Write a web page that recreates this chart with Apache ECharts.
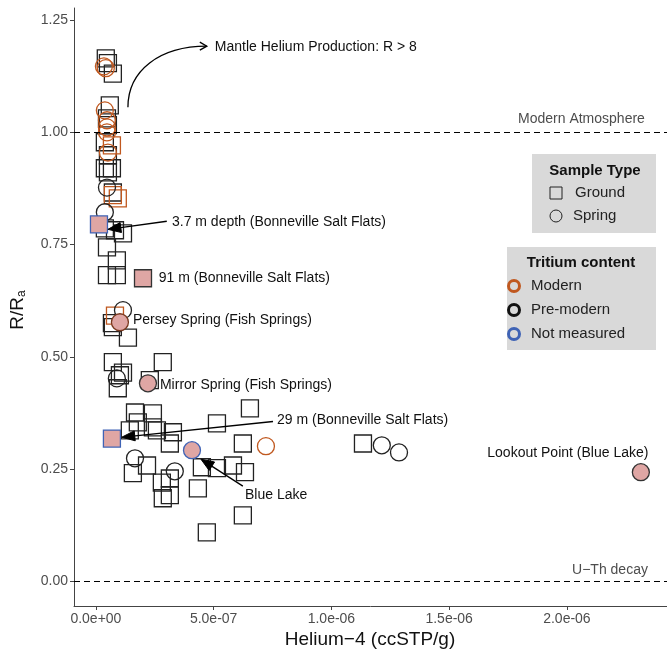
<!DOCTYPE html>
<html>
<head>
<meta charset="utf-8">
<script src="https://cdn.jsdelivr.net/npm/echarts@6/dist/echarts.min.js"></script>
<style>
html,body{margin:0;padding:0;background:#fff;}
#chart{width:667px;height:655px;}
</style>
</head>
<body>
<div id="chart"></div>
<script>
// ---- Data: [Helium-4 (ccSTP/g), R/Ra] ----
var groundPreModern = [
  [4.2e-8,1.165],[5.1e-8,1.154],[7.2e-8,1.131],[5.9e-8,1.060],[4.7e-8,1.031],[5.1e-8,1.016],
  [3.8e-8,0.978],[5.1e-8,0.949],[3.8e-8,0.920],[6.8e-8,0.920],[5.1e-8,0.911],[7.2e-8,0.866],
  [3.8e-8,0.786],[8.1e-8,0.782],[1.15e-7,0.775],[4.7e-8,0.744],[8.9e-8,0.715],[4.7e-8,0.682],
  [8.9e-8,0.682],[6.8e-8,0.575],[7.2e-8,0.566],[1.36e-7,0.543],[7.2e-8,0.488],[2.84e-7,0.488],
  [1.15e-7,0.465],[1.02e-7,0.459],[9.3e-8,0.430],[2.29e-7,0.448],[1.66e-7,0.376],[2.42e-7,0.374],
  [1.78e-7,0.354],[1.44e-7,0.336],[2.42e-7,0.343],[2.59e-7,0.336],[3.27e-7,0.332],[3.14e-7,0.307],
  [5.14e-7,0.352],[6.54e-7,0.385],[6.24e-7,0.307],[2.17e-7,0.258],[1.57e-7,0.241],[2.80e-7,0.220],
  [3.14e-7,0.229],[2.84e-7,0.185],[3.14e-7,0.192],[4.50e-7,0.254],[5.14e-7,0.252],[5.82e-7,0.258],
  [6.33e-7,0.243],[4.33e-7,0.207],[6.24e-7,0.147],[4.71e-7,0.109],[1.134e-6,0.307]
];
var groundModern = [[6.8e-8,0.971],[7.2e-8,0.860],[9.3e-8,0.853],[8.1e-8,0.592]];
var springPreModern = [
  [4.7e-8,0.877],[3.8e-8,0.822],[1.15e-7,0.604],[8.9e-8,0.452],[1.66e-7,0.274],[3.35e-7,0.245],
  [1.214e-6,0.303],[1.287e-6,0.287]
];
var springModern = [
  [3.4e-8,1.147],[4.2e-8,1.143],[3.8e-8,1.049],[4.7e-8,1.027],[4.7e-8,1.011],[4.7e-8,1.000],
  [5.1e-8,0.955],[7.22e-7,0.301]
];
// highlighted (labelled) samples
var groundLabelledNotMeasured = [[1.3e-8,0.795],[6.8e-8,0.318]];   // 3.7 m, 29 m
var groundLabelledPreModern = [[2.0e-7,0.675]];                     // 91 m
var springLabelledModern = [[1.02e-7,0.577]];                       // Persey Spring
var springLabelledPreModern = [[2.21e-7,0.441],[2.314e-6,0.243]];   // Mirror Spring, Lookout Point
var springLabelledNotMeasured = [[4.08e-7,0.292]];                  // Blue Lake

var xTickValues = [0, 5e-7, 1e-6, 1.5e-6, 2e-6];
var xTickLabels = ['0.0e+00','5.0e-07','1.0e-06','1.5e-06','2.0e-06'];
var yTickValues = [0, 0.25, 0.5, 0.75, 1.0, 1.25];
var yTickLabels = ['0.00','0.25','0.50','0.75','1.00','1.25'];
var refLines = [1.0, 0.0];

var ORANGE = '#c0581f', BLUE = '#3f63b5', BLACK = '#111', PINK = '#dfa6a4';
var FONT = '"Liberation Sans", Arial, Helvetica, sans-serif';

function lookup(vals, labels, v){
  for (var i=0;i<vals.length;i++){ if (Math.abs(vals[i]-v) < 1e-12 + Math.abs(vals[i])*1e-6) return labels[i]; }
  return '';
}

var chart = echarts.init(document.getElementById('chart'), null, {renderer:'canvas'});

function sq(name, data, border, fill){
  return {type:'scatter', name:name, data:data, symbol:'rect', symbolSize:17,
    itemStyle:{color:fill||'rgba(0,0,0,0)', borderColor:border, borderWidth:1.3, opacity:1},
    emphasis:{disabled:true}, silent:true, z:3};
}
function ci(name, data, border, fill){
  return {type:'scatter', name:name, data:data, symbol:'circle', symbolSize:17,
    itemStyle:{color:fill||'rgba(0,0,0,0)', borderColor:border, borderWidth:1.3, opacity:1},
    emphasis:{disabled:true}, silent:true, z:3};
}

var series = [
  sq('gpm', groundPreModern, '#222'),
  sq('gm', groundModern, ORANGE),
  ci('spm', springPreModern, '#222'),
  ci('sm', springModern, ORANGE),
  sq('glnm', groundLabelledNotMeasured, BLUE, PINK),
  sq('glpm', groundLabelledPreModern, '#333', PINK),
  ci('slm', springLabelledModern, '#7a3a20', PINK),
  ci('slpm', springLabelledPreModern, '#333', PINK),
  ci('slnm', springLabelledNotMeasured, BLUE, PINK)
];
series[0].markLine = {
  silent:true, symbol:['none','none'], label:{show:false},
  lineStyle:{color:'#000', type:[6,4], width:1.2},
  data: refLines.map(function(v){ return {yAxis:v}; })
};

chart.setOption({
  animation:false,
  backgroundColor:'#fff',
  textStyle:{fontFamily:FONT},
  grid:{left:74, right:0, top:8, bottom:49, containLabel:false},
  xAxis:{
    type:'value', min:-9.3e-8, max:2.425e-6,
    axisLine:{show:true, onZero:false, lineStyle:{color:'#444', width:1}},
    axisTick:{show:true, length:4, lineStyle:{color:'#444'}, customValues:xTickValues},
    axisLabel:{show:true, customValues:xTickValues, margin:6, color:'#4d4d4d', fontSize:14, fontFamily:FONT,
      formatter:function(v){ return lookup(xTickValues, xTickLabels, v); }},
    splitLine:{show:false}
  },
  yAxis:{
    type:'value', min:-0.055, max:1.277,
    axisLine:{show:true, onZero:false, lineStyle:{color:'#444', width:1}},
    axisTick:{show:true, length:4, lineStyle:{color:'#444'}, customValues:yTickValues},
    axisLabel:{show:true, customValues:yTickValues, margin:6, color:'#4d4d4d', fontSize:14, fontFamily:FONT,
      formatter:function(v){ return lookup(yTickValues, yTickLabels, v); }},
    splitLine:{show:false}
  },
  series:series
});

function P(x,y){ return chart.convertToPixel({gridIndex:0}, [x,y]); }

function arrowEls(tail, tip, headLen, headHalf){
  var dx = tip[0]-tail[0], dy = tip[1]-tail[1];
  var L = Math.sqrt(dx*dx+dy*dy); var ux = dx/L, uy = dy/L;
  var bx = tip[0]-ux*headLen, by = tip[1]-uy*headLen;
  var px = -uy, py = ux;
  return [
    {type:'line', shape:{x1:tail[0], y1:tail[1], x2:bx+ux*2, y2:by+uy*2}, style:{stroke:'#000', lineWidth:1.3}, z:10, silent:true},
    {type:'polygon', shape:{points:[[tip[0],tip[1]],[bx+px*headHalf,by+py*headHalf],[bx-px*headHalf,by-py*headHalf]]},
      style:{fill:'#000', stroke:'#000', lineWidth:1}, z:10, silent:true}
  ];
}
function txt(pos, s, align, size, color, bold, z){
  return {type:'text', x:pos[0], y:pos[1], z:z||11, silent:true,
    style:{text:s, fill:color||'#111', font:(bold?'bold ':'')+(size||14)+'px '+FONT, align:align||'left', verticalAlign:'middle'}};
}

var g = [];
// Curved arrow for mantle helium
var cs = P(1.36e-7, 1.056), ce = P(4.71e-7, 1.192);
g.push({type:'bezierCurve', z:10, silent:true,
  shape:{x1:cs[0], y1:cs[1], cpx1:cs[0], cpy1:cs[1]-(cs[1]-ce[1])*0.6, cpx2:ce[0]-(ce[0]-cs[0])*0.6, cpy2:ce[1], x2:ce[0], y2:ce[1]},
  style:{stroke:'#000', lineWidth:1.3, fill:null}});
g.push({type:'polyline', z:10, silent:true, shape:{points:[[ce[0]-7,ce[1]-4],[ce[0],ce[1]],[ce[0]-7,ce[1]+4]]},
  style:{stroke:'#000', lineWidth:1.3, fill:null}});
g.push(txt(P(5.05e-7,1.189), 'Mantle Helium Production: R > 8', 'left', 14));

// 3.7 m
g = g.concat(arrowEls(P(3.01e-7,0.802), P(5.1e-8,0.784), 13, 5));
g.push(txt(P(3.23e-7,0.800), '3.7 m depth (Bonneville Salt Flats)', 'left', 14));
// 91 m
g.push(txt(P(2.67e-7,0.675), '91 m (Bonneville Salt Flats)', 'left', 14));
// Persey
g.push(txt(P(1.57e-7,0.581), 'Persey Spring (Fish Springs)', 'left', 14));
// Mirror
g.push(txt(P(2.72e-7,0.437), 'Mirror Spring (Fish Springs)', 'left', 14));
// 29 m
g = g.concat(arrowEls(P(7.52e-7,0.356), P(1.10e-7,0.321), 13, 5));
g.push(txt(P(7.69e-7,0.359), '29 m (Bonneville Salt Flats)', 'left', 14));
// Blue Lake
g = g.concat(arrowEls(P(6.24e-7,0.212), P(4.46e-7,0.272), 13, 5));
g.push(txt(P(6.33e-7,0.192), 'Blue Lake', 'left', 14));
// Lookout
g.push(txt(P(2.004e-6,0.285), 'Lookout Point (Blue Lake)', 'center', 14));
// reference line labels
g.push(txt(P(2.331e-6,1.029), 'Modern Atmosphere', 'right', 14, '#4d4d4d'));
g.push(txt(P(2.344e-6,0.0245), 'U\u2212Th decay', 'right', 14, '#4d4d4d'));

// axis titles
g.push({type:'text', x:370, y:640, z:11, silent:true,
  style:{text:'Helium\u22124 (ccSTP/g)', fill:'#111', font:'19px '+FONT, align:'center', verticalAlign:'middle'}});
g.push({type:'text', x:18, y:310, rotation:Math.PI/2, z:11, silent:true,
  style:{text:'{m|R/R}{s|a}', align:'center', verticalAlign:'middle',
    rich:{m:{fontSize:19, fontFamily:FONT, fill:'#111', color:'#111'}, s:{fontSize:12, fontFamily:FONT, fill:'#111', color:'#111', verticalAlign:'bottom', padding:[8,0,0,0]}}}});

// legends
var LG = '#d9d9d9';
g.push({type:'rect', shape:{x:532, y:154, width:124, height:79}, style:{fill:LG}, z:12, silent:true});
g.push(txt([595,171], 'Sample Type', 'center', 15, '#111', true, 14));
g.push({type:'rect', shape:{x:550, y:187, width:12, height:12}, style:{fill:null, stroke:'#222', lineWidth:1}, z:13, silent:true});
g.push(txt([575,193], 'Ground', 'left', 15, '#222', false, 14));
g.push({type:'circle', shape:{cx:556, cy:216, r:6}, style:{fill:null, stroke:'#222', lineWidth:1}, z:13, silent:true});
g.push(txt([573,216], 'Spring', 'left', 15, '#222', false, 14));

g.push({type:'rect', shape:{x:507, y:247, width:149, height:103}, style:{fill:LG}, z:12, silent:true});
g.push(txt([581,263], 'Tritium content', 'center', 15, '#111', true, 14));
var legC = [[ORANGE,'Modern',286],[BLACK,'Pre-modern',310],[BLUE,'Not measured',334]];
legC.forEach(function(c){
  g.push({type:'circle', shape:{cx:514, cy:c[2], r:5.5}, style:{fill:null, stroke:c[0], lineWidth:3}, z:13, silent:true});
  g.push(txt([531,c[2]], c[1], 'left', 15, '#222', false, 14));
});
chart.setOption({graphic:{elements:g}});
</script>
</body>
</html>
